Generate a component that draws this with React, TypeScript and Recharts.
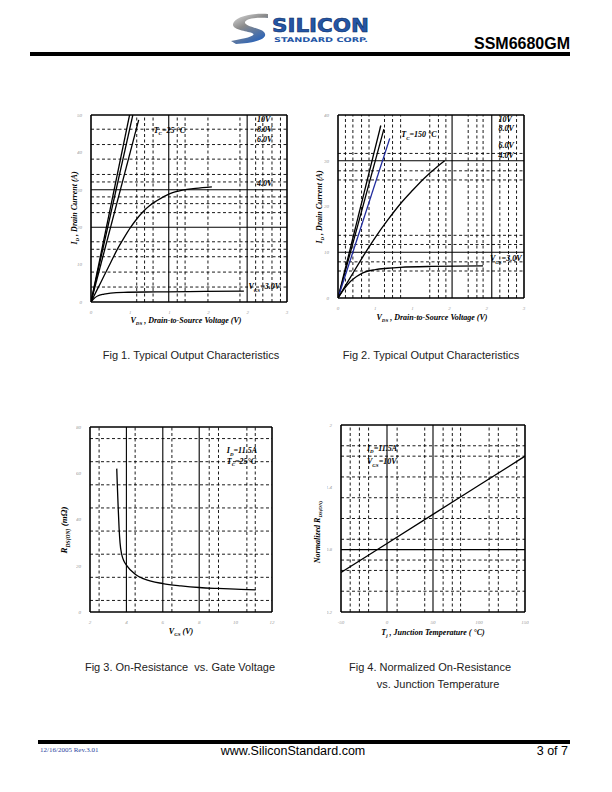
import React from "react";
import { LineChart, Line, XAxis, YAxis, ReferenceLine, ReferenceDot } from "recharts";

// ---- Fig 1: typical output characteristics, Tc = 25 C ----
const f1Vds10 = [0, 0.59];
const f1Id10 = [0, 50];
const f1Vds8 = [0, 0.64];
const f1Id8 = [0, 50];
const f1Vds6 = [0, 0.73];
const f1Id6 = [0, 48.7];
const f1Vds4 = [0, 0.1, 0.2, 0.3, 0.4, 0.5, 0.6, 0.7, 0.8, 0.9, 1.0, 1.2, 1.4, 1.6, 1.85];
const f1Id4 = [0, 3.5, 7, 10.5, 14, 17, 19.8, 22.2, 24.2, 25.8, 27, 28.9, 29.9, 30.4, 30.8];
const f1Vds3 = [0, 0.05, 0.1, 0.2, 0.3, 0.5, 1.0, 1.5, 2.34];
const f1Id3 = [0, 1, 1.6, 2.1, 2.4, 2.6, 2.7, 2.8, 2.9];

// ---- Fig 2: typical output characteristics, Tc = 150 C ----
const f2Vds10 = [0, 0.69];
const f2Id10 = [0, 37.7];
const f2Vds8 = [0, 0.74];
const f2Id8 = [0, 36.9];
const f2Vds6 = [0, 0.835];
const f2Id6 = [0, 34.9];
const f2Vds4 = [0, 0.2, 0.4, 0.6, 0.8, 1.0, 1.2, 1.4, 1.6, 1.72];
const f2Id4 = [0, 4.5, 9, 13.2, 17, 20.5, 23.5, 26.3, 28.7, 30];
const f2Vds3 = [0, 0.1, 0.2, 0.3, 0.4, 0.6, 0.8, 1.0, 1.5, 2.34];
const f2Id3 = [0, 2, 3.6, 4.7, 5.5, 6.2, 6.5, 6.7, 6.9, 7.0];

// ---- Fig 3: on-resistance vs gate voltage ----
const f3Vgs = [3.47, 3.5, 3.55, 3.6, 3.65, 3.74, 3.85, 4.0, 4.5, 5, 6, 7, 8, 9, 10, 11.1];
const f3Rds = [62, 55, 45, 36, 30, 25, 22.3, 20.3, 16.2, 14.2, 12.3, 11.3, 10.6, 10.2, 9.9, 9.6];

// ---- Fig 4: normalized on-resistance vs junction temperature ----
const f4Tj = [-50, 0, 50, 100, 150];
const f4Rn = [0.58, 0.86, 1.14, 1.42, 1.7];

// tick labels
const vdsTicks = [0, 0.6, 1.2, 1.8, 2.4, 3];
const f1IdTicks = [0, 10, 20, 30, 40, 50];
const f2IdTicks = [0, 10, 20, 30, 40];
const f3VgsTicks = [2, 4, 6, 8, 10, 12];
const f3RdsTicks = [0, 20, 40, 60, 80];
const f4TjTicks = [-50, 0, 50, 100, 150];
const f4RnTicks = [0.2, 0.8, 1.4, 2];

const zip = (xs: number[], ys: number[]) => xs.map((x, i) => ({ x, y: ys[i] }));

const SERIF = "'Times New Roman', 'Liberation Serif', serif";
const SANS = "Arial, 'Liberation Sans', sans-serif";

type Part = [string, string?];
type Series = { xs: number[]; ys: number[]; color?: string; curve?: boolean };
type Anno = { x: number; y: number; parts: Part[] };

function RichText({ x, y, parts, size = 8 }: { x: number; y: number; parts: Part[]; size?: number }) {
  const nodes: React.ReactNode[] = [];
  let shifted = false;
  parts.forEach(([m, s], i) => {
    if (m) {
      nodes.push(
        <tspan key={i + "m"} dy={shifted ? -size * 0.3 : 0}>
          {m}
        </tspan>
      );
      shifted = false;
    }
    if (s) {
      nodes.push(
        <tspan key={i + "s"} fontSize={size * 0.62} dy={size * 0.3}>
          {s}
        </tspan>
      );
      shifted = true;
    }
  });
  return (
    <text x={x} y={y} fontSize={size} fontFamily={SERIF} fontStyle="italic" fontWeight="bold" fill="#000">
      {nodes}
    </text>
  );
}

const YW = 14;
const XH = 12;
const MT = 4;
const MR = 4;
const tickStyle = { fontSize: 5, fill: "#999", fontFamily: SERIF, fontStyle: "italic" };

type PlotProps = {
  left: number;
  top: number;
  w: number;
  h: number;
  xDomain: [number, number];
  yDomain: [number, number];
  xTicks: number[];
  yTicks: number[];
  xFmt?: (v: number) => string;
  yFmt?: (v: number) => string;
  vSolid: number[];
  vDash: number[];
  hSolid: number[];
  hDash: number[];
  series: Series[];
  annos: Anno[];
};

function Plot(p: PlotProps) {
  const dash = { stroke: "#000", strokeDasharray: "3 2.5", strokeWidth: 0.9 };
  const solid = { stroke: "#000", strokeWidth: 1.1 };
  const frame = { stroke: "#000", strokeWidth: 1.6 };
  return (
    <div style={{ position: "absolute", left: p.left - YW, top: p.top - MT }}>
      <LineChart width={YW + p.w + MR} height={MT + p.h + XH} margin={{ top: MT, right: MR, left: 0, bottom: 0 }}>
        <XAxis
          type="number"
          dataKey="x"
          domain={p.xDomain}
          ticks={p.xTicks}
          tickFormatter={p.xFmt}
          interval={0}
          allowDataOverflow
          height={XH}
          axisLine={false}
          tickLine={false}
          tick={tickStyle}
          tickMargin={2}
        />
        <YAxis
          type="number"
          dataKey="y"
          domain={p.yDomain}
          ticks={p.yTicks}
          tickFormatter={p.yFmt}
          interval={0}
          allowDataOverflow
          width={YW}
          axisLine={false}
          tickLine={false}
          tick={tickStyle}
          tickMargin={3}
        />
        {p.vDash.map((v) => (
          <ReferenceLine key={"vd" + v} x={v} {...dash} />
        ))}
        {p.hDash.map((v) => (
          <ReferenceLine key={"hd" + v} y={v} {...dash} />
        ))}
        {p.vSolid.map((v) => (
          <ReferenceLine key={"vs" + v} x={v} {...solid} />
        ))}
        {p.hSolid.map((v) => (
          <ReferenceLine key={"hs" + v} y={v} {...solid} />
        ))}
        {p.series.map((s, i) => (
          <Line
            key={i}
            data={zip(s.xs, s.ys)}
            dataKey="y"
            type={s.curve ? "monotone" : "linear"}
            stroke={s.color ?? "#000"}
            strokeWidth={1.3}
            dot={false}
            isAnimationActive={false}
          />
        ))}
        <ReferenceLine x={p.xDomain[0]} {...frame} />
        <ReferenceLine x={p.xDomain[1]} {...frame} />
        <ReferenceLine y={p.yDomain[0]} {...frame} />
        <ReferenceLine y={p.yDomain[1]} {...frame} />
        {p.annos.map((a, i) => (
          <ReferenceDot
            key={"a" + i}
            x={a.x}
            y={a.y}
            r={0}
            shape={(d: any) => <RichText x={d.cx} y={d.cy} parts={a.parts} />}
          />
        ))}
      </LineChart>
    </div>
  );
}

const roundFmt = (v: number) => String(Math.round(v));

function AxisTitle({ x, y, parts, rotate, size = 8 }: { x: number; y: number; parts: Part[]; rotate?: boolean; size?: number }) {
  return (
    <div
      style={{
        position: "absolute",
        left: x,
        top: y,
        transform: `translate(-50%, -50%)${rotate ? " rotate(-90deg)" : ""}`,
        whiteSpace: "nowrap",
        fontFamily: SERIF,
        fontStyle: "italic",
        fontWeight: "bold",
        fontSize: size,
        lineHeight: 1,
      }}
    >
      {parts.map(([m, s], i) => (
        <span key={i}>
          {m}
          {s && <span style={{ fontSize: size * 0.62, position: "relative", top: size * 0.3 }}>{s}</span>}
        </span>
      ))}
    </div>
  );
}

function Caption({ x, y, text }: { x: number; y: number; text: string }) {
  return (
    <div
      style={{
        position: "absolute",
        left: x,
        top: y,
        transform: "translateX(-50%)",
        whiteSpace: "pre",
        fontFamily: SANS,
        fontSize: 11,
        color: "#222",
      }}
    >
      {text}
    </div>
  );
}

export default function App() {
  return (
    <div style={{ position: "absolute", left: 0, top: 0, width: 612, height: 792, background: "#fff" }}>
      {/* header + footer decorations */}
      <svg width={612} height={792} style={{ position: "absolute", left: 0, top: 0 }}>
        <defs>
          <linearGradient id="swoosh" x1="0" y1="0" x2="0.6" y2="1">
            <stop offset="0" stopColor="#e4e4e4" />
            <stop offset="0.45" stopColor="#8a8a8a" />
            <stop offset="1" stopColor="#2a63b8" />
          </linearGradient>
        </defs>
        <path
          d="M 268 14 C 250 13, 235 17, 233 24 C 232 30, 246 31, 252 33 C 257 35, 250 38, 231 41 L 236 44 C 258 43, 269 38, 264 32 C 260 28, 247 27, 245 23 C 244 19, 255 17, 268 18 Z"
          fill="url(#swoosh)"
        />
        <text
          x={272}
          y={32}
          fontSize={19}
          fontWeight={900}
          fontFamily="'DejaVu Sans', sans-serif"
          fill="#2456a6"
          stroke="#0e2c62"
          strokeWidth={0.6}
          textLength={97}
          lengthAdjust="spacingAndGlyphs"
        >
          SILICON
        </text>
        <text
          x={274}
          y={42}
          fontSize={6.5}
          fontWeight={700}
          fontFamily="'DejaVu Sans', sans-serif"
          fill="#2456a6"
          textLength={94}
          lengthAdjust="spacingAndGlyphs"
        >
          STANDARD CORP.
        </text>
        <text x={570} y={49} textAnchor="end" fontSize={16} fontWeight={700} fontFamily={SANS} fill="#000">
          SSM6680GM
        </text>
        <rect x={30} y={52} width={540} height={4} fill="#000" />
        <rect x={38} y={740} width={532} height={4} fill="#000" />
        <text x={40} y={752} fontSize={7} fontFamily={SERIF} fill="#2b3fa0">
          12/16/2005 Rev.3.01
        </text>
        <text x={293} y={755} textAnchor="middle" fontSize={12.5} fontFamily={SANS} fill="#000">
          www.SiliconStandard.com
        </text>
        <text x={568} y={755} textAnchor="end" fontSize={12.5} fontFamily={SANS} fill="#000">
          3 of 7
        </text>
      </svg>

      {/* Fig 1 */}
      <Plot
        left={90.7}
        top={115}
        w={196}
        h={187}
        xDomain={[0, 3]}
        yDomain={[0, 50]}
        xTicks={vdsTicks}
        yTicks={f1IdTicks}
        xFmt={roundFmt}
        vSolid={[1.19, 2.39]}
        vDash={[0.7, 0.82, 0.95, 1.32, 1.44, 1.79, 2.28, 2.52, 2.63, 2.77, 2.9]}
        hSolid={[20, 30]}
        hDash={[4, 8, 12.1, 14.1, 16.1, 23.9, 26.3, 28.1, 32.1, 34.1, 38.2, 42.1, 46.2]}
        series={[
          { xs: f1Vds10, ys: f1Id10 },
          { xs: f1Vds8, ys: f1Id8 },
          { xs: f1Vds6, ys: f1Id6 },
          { xs: f1Vds4, ys: f1Id4, curve: true },
          { xs: f1Vds3, ys: f1Id3, curve: true },
        ]}
        annos={[
          { x: 0.96, y: 45.3, parts: [["T", "C"], ["=25 °C"]] },
          { x: 2.54, y: 48, parts: [["10V"]] },
          { x: 2.54, y: 45.4, parts: [["8.0V"]] },
          { x: 2.54, y: 42.8, parts: [["6.0V"]] },
          { x: 2.54, y: 31, parts: [["4.0V"]] },
          { x: 2.41, y: 3.4, parts: [["V", "GS"], ["=3.0V"]] },
        ]}
      />
      <AxisTitle x={75} y={208} rotate parts={[["I", "D"], [" , Drain Current (A)"]]} />
      <AxisTitle x={186} y={321} parts={[["V", "DS"], [" , Drain-to-Source Voltage (V)"]]} />
      <Caption x={191} y={349} text="Fig 1. Typical Output Characteristics" />

      {/* Fig 2 */}
      <Plot
        left={338}
        top={115}
        w={186}
        h={183}
        xDomain={[0, 3]}
        yDomain={[0, 40]}
        xTicks={vdsTicks}
        yTicks={f2IdTicks}
        xFmt={roundFmt}
        vSolid={[1.84, 2.48]}
        vDash={[0.12, 0.24, 0.38, 0.5, 0.75, 0.88, 1.01, 1.48, 1.62, 1.74, 2.1, 2.24, 2.34, 2.61, 2.75, 2.88]}
        hSolid={[10, 30]}
        hDash={[5.9, 7.9, 11.7, 13.7, 25.8, 27.8, 31.6]}
        series={[
          { xs: f2Vds10, ys: f2Id10 },
          { xs: f2Vds8, ys: f2Id8 },
          { xs: f2Vds6, ys: f2Id6, color: "#1f2a9c" },
          { xs: f2Vds4, ys: f2Id4, curve: true },
          { xs: f2Vds3, ys: f2Id3, curve: true },
        ]}
        annos={[
          { x: 1.02, y: 35.1, parts: [["T", "C"], ["=150 °C"]] },
          { x: 2.59, y: 38.4, parts: [["10V"]] },
          { x: 2.59, y: 36.4, parts: [["8.0V"]] },
          { x: 2.59, y: 32.8, parts: [["6.0V"]] },
          { x: 2.59, y: 30.7, parts: [["4.0V"]] },
          { x: 2.45, y: 8.0, parts: [["V", "GS"], ["=3.0V"]] },
        ]}
      />
      <AxisTitle x={320} y={207} rotate parts={[["I", "D"], [" , Drain Current (A)"]]} />
      <AxisTitle x={432} y={318} parts={[["V", "DS"], [" , Drain-to-Source Voltage (V)"]]} />
      <Caption x={431} y={349} text="Fig 2. Typical Output Characteristics" />

      {/* Fig 3 */}
      <Plot
        left={90}
        top={427}
        w={182}
        h={185}
        xDomain={[2, 12]}
        yDomain={[0, 80]}
        xTicks={f3VgsTicks}
        yTicks={f3RdsTicks}
        vSolid={[4, 6, 8]}
        vDash={[2.5, 4.48, 6.5, 8.55, 9.06, 10.62, 11.08]}
        hSolid={[]}
        hDash={[5, 15, 25, 35, 45, 55, 65, 75]}
        series={[{ xs: f3Vgs, ys: f3Rds, curve: true }]}
        annos={[
          { x: 9.52, y: 68.7, parts: [["I", "D"], ["=11.5A"]] },
          { x: 9.52, y: 64.2, parts: [["T", "C"], ["=25°C"]] },
        ]}
      />
      <AxisTitle x={64} y={530} rotate size={9} parts={[["R", "DS(ON)"], [" (mΩ)"]]} />
      <AxisTitle x={181} y={632} parts={[["V", "GS"], [" (V)"]]} />
      <Caption x={180} y={661} text="Fig 3. On-Resistance  vs. Gate Voltage" />

      {/* Fig 4 */}
      <Plot
        left={341}
        top={425}
        w={184}
        h={187}
        xDomain={[-50, 150]}
        yDomain={[0.2, 2]}
        xTicks={f4TjTicks}
        yTicks={f4RnTicks}
        yFmt={(v) => String(Math.round(v * 10) / 10)}
        vSolid={[0, 50]}
        vDash={[-40, -30, -20, 11, 41, 61, 71, 80, 111, 121, 141]}
        hSolid={[0.8]}
        hDash={[0.4, 0.6, 0.7, 0.9, 1.1, 1.3, 1.5, 1.7, 1.8]}
        series={[{ xs: f4Tj, ys: f4Rn }]}
        annos={[
          { x: -21.8, y: 1.75, parts: [["I", "D"], ["=11.5A"]] },
          { x: -21.8, y: 1.62, parts: [["V", "GS"], ["=10V"]] },
        ]}
      />
      <AxisTitle x={318} y={532} rotate parts={[["Normalized R", "DS(ON)"]]} />
      <AxisTitle x={433} y={633} parts={[["T", "j"], [" , Junction Temperature ( °C)"]]} />
      <Caption x={430} y={661} text="Fig 4. Normalized On-Resistance" />
      <Caption x={438} y={678} text="vs. Junction Temperature" />
    </div>
  );
}
